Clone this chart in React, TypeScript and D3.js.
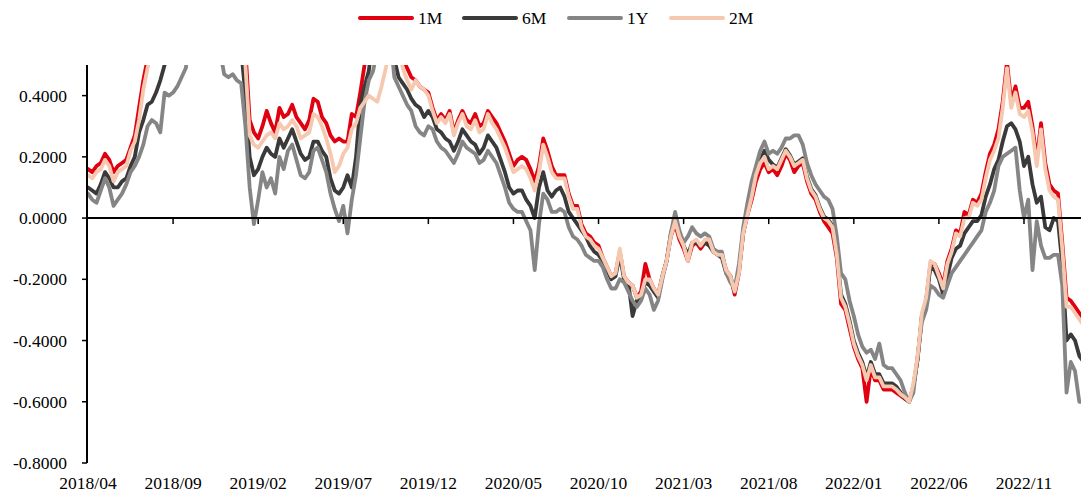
import React from "react";
import * as d3 from "d3";

const tickLabels = ["2018/04","2018/09","2019/02","2019/07","2019/12","2020/05","2020/10","2021/03","2021/08","2022/01","2022/06","2022/11"];
const yTicks = [-0.8,-0.6,-0.4,-0.2,0,0.2,0.4];

// values every ~quarter month, 2018/04 .. 2023/02 (values above 0.5 are clipped by the axis)
const s1M = [
0.16,0.15,0.17,0.18,0.21,0.19,0.15,0.17,0.18,0.19,0.23,0.27,0.36,0.45,0.52,
0.6,0.6,0.6,0.6,0.6,0.6,0.6,0.6,0.6,0.6,0.6,0.6,0.6,0.6,0.6,0.6,0.6,0.6,0.6,0.6,0.6,0.6,
0.55,0.32,0.28,0.26,
0.30,0.35,0.31,0.28,0.36,0.33,0.34,0.37,0.33,0.31,
0.29,0.32,0.39,0.38,0.33,0.31,0.27,0.25,0.26,0.25,
0.25,0.34,0.33,0.41,0.50,0.6,0.6,0.6,0.6,0.6,
0.6,0.6,0.6,0.52,0.49,0.46,0.45,0.43,0.42,0.41,
0.36,0.32,0.34,0.32,0.35,0.28,0.32,0.35,0.32,0.31,
0.34,0.30,0.31,0.35,0.33,0.31,0.28,0.25,0.21,0.17,
0.19,0.20,0.19,0.16,0.12,0.17,0.26,0.22,0.17,0.14,
0.14,0.14,0.08,0.04,0.04,-0.02,-0.05,-0.06,-0.08,-0.09,
-0.13,-0.16,-0.19,-0.18,-0.11,-0.19,-0.21,-0.22,-0.26,-0.24,
-0.15,-0.20,-0.23,-0.25,-0.19,-0.14,-0.06,-0.02,-0.07,-0.10,
-0.14,-0.09,-0.08,-0.10,-0.08,-0.08,-0.11,-0.12,-0.12,-0.17,
-0.19,-0.25,-0.18,-0.05,0.01,0.06,0.12,0.16,0.18,0.15,
0.16,0.14,0.17,0.21,0.19,0.15,0.17,0.18,0.12,0.08,0.06,0.02,-0.01,-0.03,-0.05,-0.13,
-0.28,-0.30,-0.36,-0.42,-0.46,-0.49,-0.60,-0.49,-0.53,-0.53,-0.56,-0.56,-0.56,-0.57,-0.58,-0.59,-0.60,-0.55,-0.46,-0.32,-0.27,-0.15,-0.15,-0.18,
-0.22,-0.14,-0.10,-0.04,-0.05,0.02,0.01,0.06,0.05,0.08,0.15,0.21,0.24,0.29,0.38,0.51,0.38,0.43,0.36,0.36,0.38,0.30,0.19,0.31,0.18,0.11,0.09,0.08,-0.08,-0.26,-0.27,-0.29,-0.31,-0.33];

const s6M = [
0.10,0.09,0.08,0.11,0.15,0.13,0.10,0.10,0.12,0.13,0.17,0.20,0.28,0.32,0.37,
0.38,0.41,0.45,0.50,0.55,
0.6,0.6,0.6,0.6,0.6,0.6,0.6,0.6,0.6,0.6,0.6,0.6,0.6,0.6,0.6,0.6,
0.55,0.40,0.20,0.14,0.16,
0.20,0.23,0.21,0.20,0.26,0.23,0.26,0.29,0.25,0.21,
0.19,0.20,0.25,0.25,0.22,0.20,0.13,0.09,0.08,0.10,
0.14,0.10,0.20,0.37,0.43,0.48,0.6,0.6,0.6,0.6,
0.6,0.52,0.46,0.44,0.42,0.39,0.37,0.36,0.33,0.35,
0.33,0.29,0.28,0.26,0.25,0.22,0.25,0.29,0.27,0.25,
0.24,0.21,0.23,0.27,0.25,0.23,0.19,0.15,0.10,0.08,
0.09,0.09,0.06,0.04,0.00,0.10,0.15,0.09,0.07,0.09,
0.10,0.07,0.02,0.00,-0.02,-0.04,-0.06,-0.09,-0.11,-0.12,
-0.14,-0.17,-0.20,-0.19,-0.12,-0.20,-0.21,-0.32,-0.27,-0.25,
-0.21,-0.22,-0.24,-0.26,-0.19,-0.14,-0.05,0.00,-0.06,-0.09,
-0.12,-0.08,-0.08,-0.09,-0.08,-0.09,-0.11,-0.12,-0.13,-0.18,
-0.19,-0.24,-0.17,-0.05,0.02,0.08,0.15,0.19,0.22,0.19,
0.175,0.165,0.195,0.225,0.205,0.175,0.185,0.195,0.135,0.095,0.075,0.035,0.005,-0.005,-0.025,-0.115,
-0.25,-0.28,-0.335,-0.40,-0.44,-0.47,-0.52,-0.47,-0.51,-0.51,-0.54,-0.54,-0.54,-0.55,-0.57,-0.59,-0.60,-0.55,-0.46,-0.32,-0.27,-0.16,-0.17,-0.20,
-0.25,-0.19,-0.13,-0.10,-0.09,-0.05,-0.03,-0.01,-0.01,0.01,0.07,0.11,0.16,0.19,0.25,0.30,0.31,0.29,0.25,0.17,0.20,0.11,0.05,0.07,-0.03,-0.04,0.00,-0.01,-0.15,-0.40,-0.38,-0.40,-0.45,-0.47];

const s1Y = [
0.08,0.06,0.05,0.09,0.13,0.10,0.04,0.06,0.08,0.11,0.15,0.17,0.20,0.24,0.30,0.32,0.31,0.28,0.41,0.40,0.41,0.43,0.46,0.49,
0.6,0.6,0.6,0.6,0.6,0.6,0.6,
0.55,0.47,0.46,0.47,0.45,0.44,0.30,0.10,-0.02,0.06,
0.15,0.10,0.13,0.08,0.20,0.16,0.22,0.24,0.19,0.14,
0.13,0.15,0.22,0.23,0.19,0.15,0.08,0.03,-0.01,0.04,
-0.05,0.06,0.14,0.26,0.38,0.45,0.48,0.55,0.6,0.6,
0.6,0.46,0.43,0.40,0.37,0.35,0.30,0.28,0.27,0.30,
0.29,0.25,0.23,0.22,0.20,0.18,0.21,0.25,0.23,0.22,
0.21,0.18,0.19,0.22,0.20,0.18,0.14,0.10,0.05,0.03,
0.02,0.02,-0.01,-0.04,-0.17,-0.02,0.08,0.06,0.02,0.02,
0.03,0.02,-0.03,-0.06,-0.07,-0.09,-0.12,-0.13,-0.14,-0.14,
-0.16,-0.20,-0.23,-0.23,-0.20,-0.21,-0.24,-0.27,-0.29,-0.27,
-0.23,-0.25,-0.30,-0.27,-0.20,-0.14,-0.05,0.02,-0.04,-0.08,
-0.06,-0.03,-0.05,-0.06,-0.05,-0.06,-0.10,-0.11,-0.11,-0.18,
-0.21,-0.23,-0.15,-0.03,0.05,0.12,0.17,0.22,0.25,0.21,
0.22,0.21,0.23,0.26,0.26,0.27,0.27,0.24,0.18,0.14,0.11,0.09,0.07,0.06,0.03,-0.06,
-0.18,-0.20,-0.27,-0.32,-0.38,-0.42,-0.44,-0.43,-0.46,-0.41,-0.48,-0.49,-0.49,-0.51,-0.53,-0.57,-0.60,-0.57,-0.45,-0.34,-0.30,-0.22,-0.23,-0.25,
-0.26,-0.22,-0.18,-0.16,-0.14,-0.12,-0.10,-0.08,-0.06,-0.04,0.02,0.05,0.09,0.17,0.20,0.21,0.22,0.23,
0.09,0.00,0.06,-0.17,-0.01,-0.09,-0.13,-0.13,-0.12,-0.12,-0.22,-0.57,-0.47,-0.50,-0.60,-0.60];

const s2M = [
0.14,0.13,0.15,0.16,0.19,0.17,0.12,0.15,0.16,0.17,0.22,0.25,0.32,0.42,0.49,
0.55,0.6,0.6,0.6,0.6,0.6,0.6,0.6,0.6,0.6,0.6,0.6,0.6,0.6,0.6,0.6,0.6,0.6,0.6,0.6,0.6,0.6,
0.50,0.27,0.24,0.23,
0.25,0.27,0.28,0.26,0.31,0.29,0.30,0.32,0.30,0.26,
0.27,0.28,0.34,0.33,0.30,0.26,0.21,0.15,0.17,0.21,
0.23,0.29,0.31,0.36,0.38,0.40,0.39,0.38,0.43,0.49,
0.55,0.6,0.55,0.49,0.45,0.42,0.45,0.43,0.42,0.40,
0.35,0.31,0.33,0.31,0.34,0.27,0.31,0.34,0.30,0.29,
0.32,0.28,0.29,0.34,0.31,0.29,0.26,0.23,0.19,0.15,
0.16,0.17,0.16,0.13,0.09,0.15,0.24,0.20,0.15,0.13,
0.13,0.13,0.07,0.03,0.03,-0.03,-0.06,-0.07,-0.09,-0.10,
-0.13,-0.16,-0.19,-0.18,-0.10,-0.19,-0.21,-0.22,-0.26,-0.25,
-0.20,-0.20,-0.23,-0.25,-0.19,-0.14,-0.06,-0.01,-0.06,-0.09,
-0.14,-0.08,-0.07,-0.09,-0.07,-0.07,-0.11,-0.12,-0.12,-0.17,
-0.19,-0.24,-0.18,-0.05,0.01,0.07,0.14,0.18,0.20,0.16,
0.17,0.16,0.19,0.22,0.20,0.17,0.18,0.19,0.13,0.09,0.07,0.03,0.00,-0.01,-0.03,-0.12,
-0.26,-0.29,-0.345,-0.41,-0.45,-0.48,-0.53,-0.48,-0.52,-0.52,-0.55,-0.55,-0.55,-0.56,-0.575,-0.585,-0.60,-0.54,-0.45,-0.31,-0.26,-0.14,-0.15,-0.19,
-0.23,-0.15,-0.11,-0.05,-0.06,0.00,0.00,0.05,0.04,0.06,0.13,0.19,0.22,0.26,0.36,0.49,0.36,0.41,0.34,0.33,0.35,0.28,0.17,0.29,0.16,0.09,0.07,0.06,-0.10,-0.29,-0.29,-0.31,-0.33,-0.35];

const series = [
  { name: "1M", values: s1M, color: "#E00010" },
  { name: "6M", values: s6M, color: "#3A3A3A" },
  { name: "1Y", values: s1Y, color: "#858585" },
  { name: "2M", values: s2M, color: "#F7C8B0" },
];

const W = 1081, H = 497;
const left = 88, right = 1081, top = 65, bottom = 463;
const STEP_PER_TICK = 20;

export default function App() {
  const x = d3.scaleLinear().domain([0, 233.4]).range([left, right]);
  const y = d3.scaleLinear().domain([-0.8, 0.5]).range([bottom, top]);
  const line = d3.line<number>().x((_, i) => x(i)).y((d) => y(d));
  const font = "'Liberation Serif', 'Times New Roman', serif";
  const legendX = [360, 464, 569, 671];
  return (
    <div style={{ position: "absolute", left: 0, top: 0 }}>
      <svg width={W} height={H} style={{ display: "block", background: "#fff" }}>
        <defs>
          <clipPath id="plot">
            <rect x={left} y={top} width={right - left} height={bottom - top} />
          </clipPath>
        </defs>
        <g clipPath="url(#plot)">
          {series.map((s) => (
            <path key={s.name} d={line(s.values) || ""} fill="none" stroke={s.color} strokeWidth={3.8} strokeLinejoin="round" strokeLinecap="round" />
          ))}
        </g>
        <line x1={87} x2={87} y1={top} y2={bottom} stroke="#000" strokeWidth={2} />
        {yTicks.map((t) => (
          <g key={t}>
            <line x1={82} x2={87} y1={y(t)} y2={y(t)} stroke="#000" strokeWidth={1.5} />
            <text x={67} y={y(t) + 6} textAnchor="end" fontFamily={font} fontSize={17.5} fill="#000">{t.toFixed(4)}</text>
          </g>
        ))}
        <line x1={87} x2={right} y1={y(0)} y2={y(0)} stroke="#000" strokeWidth={2} />
        {tickLabels.map((lab, k) => (
          <g key={lab}>
            {k > 0 && <line x1={x(k * STEP_PER_TICK)} x2={x(k * STEP_PER_TICK)} y1={y(0)} y2={y(0) + 6} stroke="#000" strokeWidth={1.5} />}
            <text x={x(k * STEP_PER_TICK)} y={489} textAnchor="middle" fontFamily={font} fontSize={17.5} fill="#000">{lab}</text>
          </g>
        ))}
        {series.map((s, i) => (
          <g key={s.name}>
            <line x1={legendX[i]} x2={legendX[i] + 52} y1={18} y2={18} stroke={s.color} strokeWidth={4} strokeLinecap="round" />
            <text x={legendX[i] + 58} y={24} fontFamily={font} fontSize={17.5} fill="#000">{s.name}</text>
          </g>
        ))}
      </svg>
    </div>
  );
}
